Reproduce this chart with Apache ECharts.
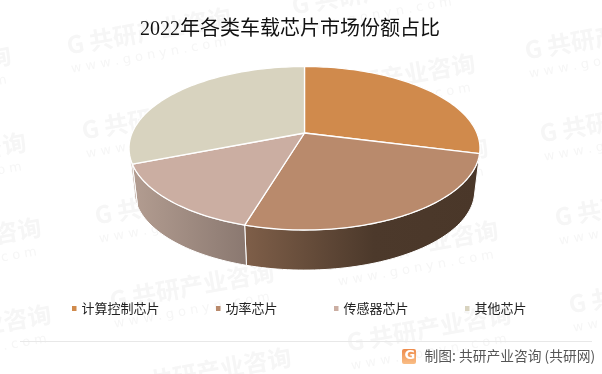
<!DOCTYPE html>
<html><head><meta charset="utf-8">
<style>html,body{margin:0;padding:0;background:#fff}#c{width:602px;height:374px}</style>
<script src="https://cdn.jsdelivr.net/npm/echarts@6/dist/echarts.min.js"></script>
</head><body><div id="c"></div>
<script>
const categories = ['计算控制芯片','功率芯片','传感器芯片','其他芯片'];
const shares = [29,25.6,14.4,31];
const titleText = '2022年各类车载芯片市场份额占比';
const sourceText = '制图: 共研产业咨询 (共研网)';
const topColors = ['#D08A4C','#B98A6C','#CBAEA2','#D8D3BF'];
const wallStops = [
  [[0,'#4A3729'],[1,'#4A3729']],
  [[0,'#7F5F49'],[0.55,'#4C392B'],[1,'#4A3729']],
  [[0,'#B39D91'],[1,'#8A7870']],
  [[0,'#B39D91'],[1,'#B39D91']]
];
const watermarkAnchors = [[-145,83],[-130,170],[-115,255],[-105,342],
  [75,45],[90,130],[103,215],[118,300],[135,385],
  [300,5],[319,91],[332,175],[342,258],[355,342],
  [533,50],[548,133],[563,217],[577,304]];

// perspective disc
const CX=304.5, TOPY=133, R=172.4, S=78.9, K=0.1866, SHRINK=0.97, BOTY=176;
function rim(deg, bottom){
  const a=deg*Math.PI/180, u=Math.sin(a), v=-Math.cos(a), d=1-K*v;
  const f=bottom?SHRINK:1, y0=bottom?BOTY:TOPY;
  return [CX+f*R*u/d, y0+f*S*v/d];
}
function arc(a0,a1,bottom){
  const n=Math.max(2,Math.ceil((a1-a0)/1.5)), p=[];
  for(let i=0;i<=n;i++) p.push(rim(a0+(a1-a0)*i/n,bottom));
  return p;
}
const total=shares.reduce((s,v)=>s+v,0);
const VIS0=79, VIS1=259;

function renderSlice(params, api){
  const i=params.seriesIndex;
  let before=0; for(let k=0;k<i;k++) before+=shares[k];
  const a0=before/total*360, a1=(before+api.value(0))/total*360;
  const children=[];
  const w0=Math.max(a0,VIS0), w1=Math.min(a1,VIS1);
  if(w1>w0){
    const pts=arc(w0,w1,false).concat(arc(w0,w1,true).reverse());
    children.push({type:'polygon',z2:1,shape:{points:pts},
      style:{fill:new echarts.graphic.LinearGradient(0,0,1,0,
        wallStops[i].map(s=>({offset:s[0],color:s[1]}))),stroke:'#fff',lineWidth:1}});
  }
  children.push({type:'polygon',z2:10,shape:{points:[[CX,TOPY]].concat(arc(a0,a1,false))},
    style:{fill:topColors[i],stroke:'#fff',lineWidth:1.3,lineJoin:'round'}});
  return {type:'group',children};
}

const graphics=[];
watermarkAnchors.forEach(p=>{
  graphics.push({type:'text',x:p[0],y:p[1],rotation:0.176,z:-1,silent:true,
    style:{text:'G 共研产业咨询',x:-8,y:-13,fill:'#F6F6F6',
      font:'bold 24px "Noto Sans CJK SC"'}});
  graphics.push({type:'text',x:p[0],y:p[1],rotation:0.176,z:-1,silent:true,
    style:{text:'w w w . g o n y n . c o m',x:-8,y:17,fill:'#F6F6F6',
      font:'13px "DejaVu Sans"'}});
});
graphics.push({type:'line',z:1,silent:true,shape:{x1:20,y1:341.5,x2:592,y2:341.5},style:{stroke:'#E8E8E8',lineWidth:1}});
graphics.push({type:'rect',z:1,silent:true,shape:{x:402,y:349,width:14,height:15,r:2},
  style:{fill:new echarts.graphic.LinearGradient(0,0,0,1,[{offset:0,color:'#EE8A4A'},{offset:1,color:'#F9BE86'}])}});
graphics.push({type:'text',z:1,silent:true,style:{text:'G',x:404.5,y:349.5,fill:'#fff',font:'bold 13px "DejaVu Sans"'}});
graphics.push({type:'text',z:1,silent:true,style:{text:sourceText,x:424.5,y:349,fill:'#555',font:'13.75px "Noto Sans CJK SC"'}});

const chart=echarts.init(document.getElementById('c'),null,{renderer:'canvas'});
chart.setOption({
  animation:false,
  backgroundColor:'#fff',
  title:{text:titleText,left:140,top:20,padding:0,
    textStyle:{fontFamily:'"Liberation Serif","Noto Sans CJK SC"',fontWeight:'normal',fontSize:20,color:'#111'}},
  legend:{left:72,top:302,padding:0,icon:'rect',itemWidth:4.5,itemHeight:5,itemGap:56.5,
    data:categories,selectedMode:false,
    textStyle:{fontFamily:'"Noto Sans CJK SC"',fontSize:13,color:'#222'}},
  graphic:graphics,
  series:categories.map((name,i)=>({
    type:'custom',name,coordinateSystem:'none',silent:true,z:3,
    itemStyle:{color:topColors[i]},
    renderItem:renderSlice,
    data:[[shares[i]]]
  }))
});
</script></body></html>
